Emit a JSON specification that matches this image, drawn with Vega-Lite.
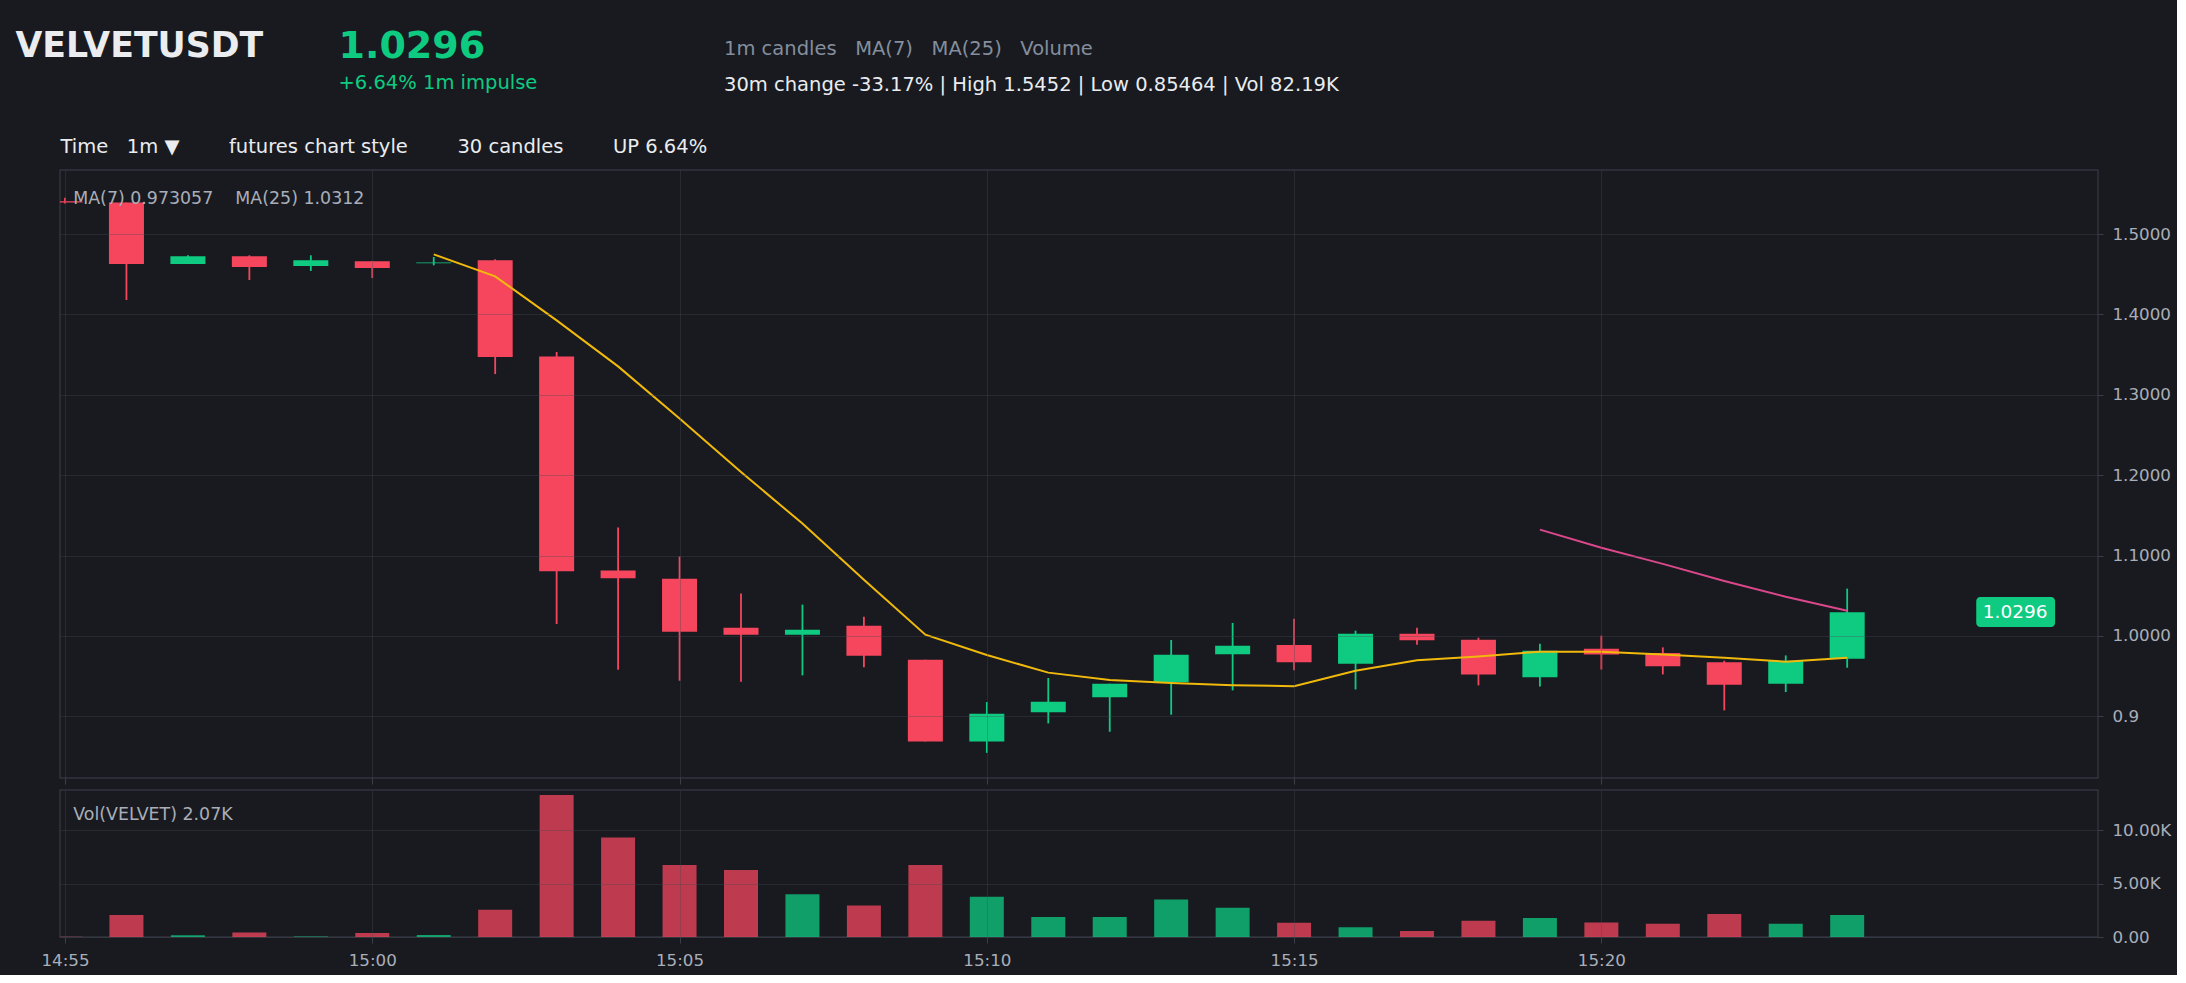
{
  "$schema": "https://vega.github.io/schema/vega-lite/v6.json",
  "background": "#181a20",
  "padding": {"left": 14, "top": 27, "right": 5, "bottom": 5},
  "bounds": "flush",
  "spacing": 12,
  "config": {
    "view": {"stroke": "#30343c", "strokeWidth": 1.5},
    "axis": {"labelFont": "DejaVu Sans", "titleFont": "DejaVu Sans"},
    "text": {"font": "DejaVu Sans"}
  },
  "datasets": {
    "candles": [
      {"t": "2024-01-01T14:55:00", "open": 1.5407, "high": 1.5452, "low": 1.5380, "close": 1.5392, "volume": 30, "ma7": null, "ma25": null},
      {"t": "2024-01-01T14:56:00", "open": 1.5392, "high": 1.5392, "low": 1.4179, "close": 1.4628, "volume": 2070, "ma7": null, "ma25": null},
      {"t": "2024-01-01T14:57:00", "open": 1.4628, "high": 1.4736, "low": 1.4628, "close": 1.4724, "volume": 160, "ma7": null, "ma25": null},
      {"t": "2024-01-01T14:58:00", "open": 1.4724, "high": 1.4736, "low": 1.4428, "close": 1.4590, "volume": 420, "ma7": null, "ma25": null},
      {"t": "2024-01-01T14:59:00", "open": 1.4603, "high": 1.4736, "low": 1.4541, "close": 1.4674, "volume": 40, "ma7": null, "ma25": null},
      {"t": "2024-01-01T15:00:00", "open": 1.4661, "high": 1.4665, "low": 1.4453, "close": 1.4578, "volume": 380, "ma7": null, "ma25": null},
      {"t": "2024-01-01T15:01:00", "open": 1.4636, "high": 1.4715, "low": 1.4611, "close": 1.4645, "volume": 190, "ma7": 1.4747, "ma25": null},
      {"t": "2024-01-01T15:02:00", "open": 1.4674, "high": 1.4686, "low": 1.3258, "close": 1.3470, "volume": 2550, "ma7": 1.4473, "ma25": null},
      {"t": "2024-01-01T15:03:00", "open": 1.3478, "high": 1.3532, "low": 1.0150, "close": 1.0804, "volume": 13330, "ma7": 1.3926, "ma25": null},
      {"t": "2024-01-01T15:04:00", "open": 1.0813, "high": 1.1349, "low": 0.9580, "close": 1.0717, "volume": 9350, "ma7": 1.3354, "ma25": null},
      {"t": "2024-01-01T15:05:00", "open": 1.0713, "high": 1.0988, "low": 0.9443, "close": 1.0054, "volume": 6770, "ma7": 1.2706, "ma25": null},
      {"t": "2024-01-01T15:06:00", "open": 1.0103, "high": 1.0527, "low": 0.9431, "close": 1.0016, "volume": 6300, "ma7": 1.2041, "ma25": null},
      {"t": "2024-01-01T15:07:00", "open": 1.0016, "high": 1.0390, "low": 0.9510, "close": 1.0078, "volume": 4010, "ma7": 1.1398, "ma25": null},
      {"t": "2024-01-01T15:08:00", "open": 1.0128, "high": 1.0240, "low": 0.9610, "close": 0.9755, "volume": 2960, "ma7": 1.0699, "ma25": null},
      {"t": "2024-01-01T15:09:00", "open": 0.9705, "high": 0.9705, "low": 0.8688, "close": 0.8688, "volume": 6770, "ma7": 1.0016, "ma25": null},
      {"t": "2024-01-01T15:10:00", "open": 0.8688, "high": 0.9178, "low": 0.8546, "close": 0.9032, "volume": 3790, "ma7": 0.9763, "ma25": null},
      {"t": "2024-01-01T15:11:00", "open": 0.9050, "high": 0.9477, "low": 0.8912, "close": 0.9182, "volume": 1880, "ma7": 0.9544, "ma25": null},
      {"t": "2024-01-01T15:12:00", "open": 0.9237, "high": 0.9406, "low": 0.8808, "close": 0.9406, "volume": 1880, "ma7": 0.9451, "ma25": null},
      {"t": "2024-01-01T15:13:00", "open": 0.9423, "high": 0.9950, "low": 0.9020, "close": 0.9767, "volume": 3530, "ma7": 0.9415, "ma25": null},
      {"t": "2024-01-01T15:14:00", "open": 0.9771, "high": 1.0162, "low": 0.9323, "close": 0.9879, "volume": 2740, "ma7": 0.9387, "ma25": null},
      {"t": "2024-01-01T15:15:00", "open": 0.9888, "high": 1.0215, "low": 0.9572, "close": 0.9672, "volume": 1340, "ma7": 0.9375, "ma25": null},
      {"t": "2024-01-01T15:16:00", "open": 0.9655, "high": 1.0066, "low": 0.9335, "close": 1.0029, "volume": 920, "ma7": 0.9567, "ma25": null},
      {"t": "2024-01-01T15:17:00", "open": 1.0029, "high": 1.0103, "low": 0.9892, "close": 0.9946, "volume": 570, "ma7": 0.9697, "ma25": null},
      {"t": "2024-01-01T15:18:00", "open": 0.9954, "high": 0.9979, "low": 0.9385, "close": 0.9522, "volume": 1530, "ma7": 0.9746, "ma25": null},
      {"t": "2024-01-01T15:19:00", "open": 0.9485, "high": 0.9904, "low": 0.9372, "close": 0.9817, "volume": 1780, "ma7": 0.9805, "ma25": 1.1323},
      {"t": "2024-01-01T15:20:00", "open": 0.9841, "high": 1.0004, "low": 0.9582, "close": 0.9770, "volume": 1370, "ma7": 0.9805, "ma25": 1.1098},
      {"t": "2024-01-01T15:21:00", "open": 0.9788, "high": 0.9858, "low": 0.9522, "close": 0.9622, "volume": 1240, "ma7": 0.9768, "ma25": 1.0897},
      {"t": "2024-01-01T15:22:00", "open": 0.9672, "high": 0.9692, "low": 0.9074, "close": 0.9394, "volume": 2160, "ma7": 0.9729, "ma25": 1.0684},
      {"t": "2024-01-01T15:23:00", "open": 0.9406, "high": 0.9758, "low": 0.9302, "close": 0.9692, "volume": 1240, "ma7": 0.9680, "ma25": 1.0488},
      {"t": "2024-01-01T15:24:00", "open": 0.9717, "high": 1.0589, "low": 0.9605, "close": 1.0296, "volume": 2070, "ma7": 0.9730, "ma25": 1.0313}
    ]
  },
  "vconcat": [
    {
      "width": 2038,
      "height": 608,
      "data": {"name": "candles"},
      "title": {
        "text": "1.0296",
        "subtitle": "+6.64% 1m impulse",
        "anchor": "start",
        "frame": "group",
        "orient": "top",
        "dx": 278.5,
        "dy": 54.5,
        "offset": 0,
        "color": "#0ecb81",
        "font": "DejaVu Sans",
        "fontSize": 38,
        "fontWeight": "bold",
        "subtitleColor": "#0ecb81",
        "subtitleFont": "DejaVu Sans",
        "subtitleFontSize": 19.5,
        "subtitlePadding": 8
      },
      "layer": [
        {
          "mark": {"type": "rule", "strokeWidth": 1.8, "clip": true},
          "encoding": {
            "x": {
              "field": "t", "type": "temporal",
              "scale": {"domain": [{"year": 2024, "month": 1, "date": 1, "hours": 14, "minutes": 55}, {"year": 2024, "month": 1, "date": 1, "hours": 15, "minutes": 28}]},
              "axis": {
                "values": [
                  {"year": 2024, "month": 1, "date": 1, "hours": 14, "minutes": 55},
                  {"year": 2024, "month": 1, "date": 1, "hours": 15, "minutes": 0},
                  {"year": 2024, "month": 1, "date": 1, "hours": 15, "minutes": 5},
                  {"year": 2024, "month": 1, "date": 1, "hours": 15, "minutes": 10},
                  {"year": 2024, "month": 1, "date": 1, "hours": 15, "minutes": 15},
                  {"year": 2024, "month": 1, "date": 1, "hours": 15, "minutes": 20}
                ],
                "labels": false,
                "ticks": true, "tickSize": 6, "tickColor": "#3a3e47",
                "domain": false,
                "grid": true, "gridColor": "#474b57", "gridOpacity": 0.35,
                "zindex": 1,
                "title": "Time\u00a0\u00a0\u00a01m ▼\u00a0\u00a0\u00a0\u00a0\u00a0\u00a0\u00a0\u00a0futures chart style\u00a0\u00a0\u00a0\u00a0\u00a0\u00a0\u00a0\u00a030 candles\u00a0\u00a0\u00a0\u00a0\u00a0\u00a0\u00a0\u00a0UP 6.64%",
                "titleX": 0, "titleY": -625.5,
                "titleAlign": "left", "titleBaseline": "alphabetic",
                "titleColor": "#eaecef", "titleFontSize": 19.5, "titleFontWeight": "normal"
              }
            },
            "y": {
              "field": "low", "type": "quantitative",
              "scale": {"domain": [0.8233, 1.5797], "nice": false, "zero": false},
              "axis": {
                "orient": "right",
                "values": [0.9, 1.0, 1.1, 1.2, 1.3, 1.4, 1.5],
                "labelExpr": "datum.value < 0.95 ? '0.9' : format(datum.value, '.4f')",
                "labelColor": "#a9aeb8", "labelFontSize": 16.7, "labelPadding": 9,
                "labelFlush": false, "labelOverlap": false,
                "tickSize": 5, "tickColor": "#3a3e47",
                "domain": false,
                "grid": true, "gridColor": "#474b57", "gridOpacity": 0.35,
                "zindex": 1,
                "title": "1m candles\u00a0\u00a0\u00a0MA(7)\u00a0\u00a0\u00a0MA(25)\u00a0\u00a0\u00a0Volume",
                "titleX": -1374.5, "titleY": -116, "titleAngle": 0,
                "titleAlign": "left", "titleBaseline": "alphabetic",
                "titleColor": "#848e9c", "titleFontSize": 19.5, "titleFontWeight": "normal"
              }
            },
            "y2": {"field": "high"},
            "color": {"condition": {"test": "datum.close >= datum.open", "value": "#0ecb81"}, "value": "#f6465d"}
          }
        },
        {
          "mark": {"type": "bar", "width": 35, "clip": true},
          "encoding": {
            "x": {"field": "t", "type": "temporal"},
            "y": {"field": "open", "type": "quantitative"},
            "y2": {"field": "close"},
            "color": {"condition": {"test": "datum.close >= datum.open", "value": "#0ecb81"}, "value": "#f6465d"}
          }
        },
        {
          "transform": [{"filter": "isValid(datum.ma7)"}],
          "mark": {"type": "line", "color": "#f0b90b", "strokeWidth": 2, "clip": true},
          "encoding": {
            "x": {"field": "t", "type": "temporal"},
            "y": {"field": "ma7", "type": "quantitative"}
          }
        },
        {
          "transform": [{"filter": "isValid(datum.ma25)"}],
          "mark": {"type": "line", "color": "#da488b", "strokeWidth": 2, "clip": true},
          "encoding": {
            "x": {"field": "t", "type": "temporal"},
            "y": {"field": "ma25", "type": "quantitative"}
          }
        },
        {
          "data": {"values": [{"price": 1.0296, "label": "1.0296"}]},
          "mark": {"type": "rect", "color": "#0ecb81", "cornerRadius": 4},
          "encoding": {
            "x": {"datum": {"year": 2024, "month": 1, "date": 1, "hours": 15, "minutes": 26, "seconds": 6}, "type": "temporal"},
            "x2": {"datum": {"year": 2024, "month": 1, "date": 1, "hours": 15, "minutes": 27, "seconds": 23}},
            "y": {"datum": 1.0485, "type": "quantitative"},
            "y2": {"datum": 1.0111}
          }
        },
        {
          "data": {"values": [{"price": 1.0296, "label": "1.0296"}]},
          "mark": {"type": "text", "color": "#ffffff", "fontSize": 18.5, "align": "center", "baseline": "middle"},
          "encoding": {
            "x": {"datum": {"year": 2024, "month": 1, "date": 1, "hours": 15, "minutes": 26, "seconds": 44}, "type": "temporal"},
            "y": {"field": "price", "type": "quantitative"},
            "text": {"field": "label"}
          }
        },
        {
          "data": {"values": [{"label": "MA(7) 0.973057\u00a0\u00a0\u00a0\u00a0MA(25) 1.0312"}]},
          "mark": {"type": "text", "color": "#a9aeb8", "fontSize": 17.4, "align": "left", "baseline": "alphabetic"},
          "encoding": {
            "x": {"datum": {"year": 2024, "month": 1, "date": 1, "hours": 14, "minutes": 55, "seconds": 8}, "type": "temporal"},
            "y": {"datum": 1.5374, "type": "quantitative"},
            "text": {"field": "label"}
          }
        }
      ]
    },
    {
      "width": 2038,
      "height": 147,
      "data": {"name": "candles"},
      "layer": [
        {
          "mark": {"type": "bar", "width": 34, "clip": true, "opacity": 0.75},
          "encoding": {
            "x": {
              "field": "t", "type": "temporal",
              "scale": {"domain": [{"year": 2024, "month": 1, "date": 1, "hours": 14, "minutes": 55}, {"year": 2024, "month": 1, "date": 1, "hours": 15, "minutes": 28}]},
              "axis": {
                "values": [
                  {"year": 2024, "month": 1, "date": 1, "hours": 14, "minutes": 55},
                  {"year": 2024, "month": 1, "date": 1, "hours": 15, "minutes": 0},
                  {"year": 2024, "month": 1, "date": 1, "hours": 15, "minutes": 5},
                  {"year": 2024, "month": 1, "date": 1, "hours": 15, "minutes": 10},
                  {"year": 2024, "month": 1, "date": 1, "hours": 15, "minutes": 15},
                  {"year": 2024, "month": 1, "date": 1, "hours": 15, "minutes": 20}
                ],
                "format": "%H:%M",
                "labelColor": "#a9aeb8", "labelFontSize": 16.7, "labelPadding": 9,
                "labelFlush": false, "labelOverlap": false,
                "ticks": true, "tickSize": 6, "tickColor": "#3a3e47",
                "domain": false,
                "grid": true, "gridColor": "#474b57", "gridOpacity": 0.35,
                "zindex": 1,
                "title": "30m change -33.17% | High 1.5452 | Low 0.85464 | Vol 82.19K",
                "titleX": 663.5, "titleY": -846.5,
                "titleAlign": "left", "titleBaseline": "alphabetic",
                "titleColor": "#eaecef", "titleFontSize": 19.5, "titleFontWeight": "normal"
              }
            },
            "y": {
              "field": "volume", "type": "quantitative",
              "scale": {"domain": [0, 13800], "nice": false},
              "axis": {
                "orient": "right",
                "values": [0, 5000, 10000],
                "labelExpr": "datum.value == 0 ? '0.00' : format(datum.value / 1000, '.2f') + 'K'",
                "labelColor": "#a9aeb8", "labelFontSize": 16.7, "labelPadding": 9,
                "labelFlush": false, "labelOverlap": false,
                "tickSize": 5, "tickColor": "#3a3e47",
                "domain": false,
                "grid": true, "gridColor": "#474b57", "gridOpacity": 0.35,
                "zindex": 1,
                "title": "VELVETUSDT",
                "titleX": -2083, "titleY": -733.5, "titleAngle": 0,
                "titleAlign": "left", "titleBaseline": "alphabetic",
                "titleColor": "#eaecef", "titleFontSize": 34.7, "titleFontWeight": "bold"
              }
            },
            "color": {"condition": {"test": "datum.close >= datum.open", "value": "#0ecb81"}, "value": "#f6465d"}
          }
        },
        {
          "data": {"values": [{"label": "Vol(VELVET) 2.07K"}]},
          "mark": {"type": "text", "color": "#a9aeb8", "fontSize": 17.4, "align": "left", "baseline": "alphabetic"},
          "encoding": {
            "x": {"datum": {"year": 2024, "month": 1, "date": 1, "hours": 14, "minutes": 55, "seconds": 8}, "type": "temporal"},
            "y": {"datum": 10983, "type": "quantitative"},
            "text": {"field": "label"}
          }
        }
      ]
    }
  ]
}
